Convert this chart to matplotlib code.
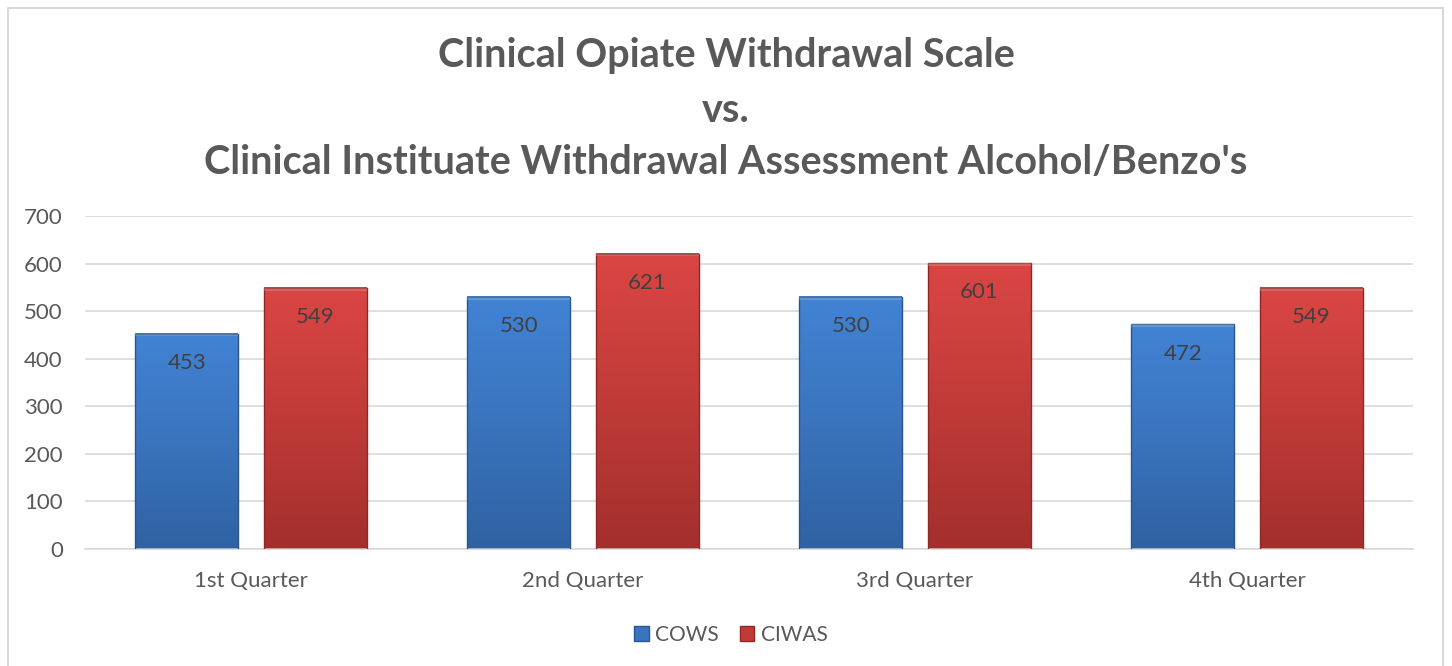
import numpy as np
import matplotlib.pyplot as plt
from matplotlib.patches import Rectangle, Patch
from matplotlib.colors import LinearSegmentedColormap

quarters = ['1st Quarter', '2nd Quarter', '3rd Quarter', '4th Quarter']
cows = [453, 530, 530, 472]
ciwas = [549, 621, 601, 549]
series_names = ['COWS', 'CIWAS']

plt.rcParams['font.family'] = ['Lato', 'DejaVu Sans']
text_color = '#595959'

fig = plt.figure(figsize=(14.52, 6.66), dpi=100)
ax = fig.add_axes([85 / 1452, 1 - 549 / 666, (1413 - 85) / 1452, (549 - 216) / 666])

# outer frame of the chart area
fig.patches.append(Rectangle((8 / 1452, -0.01), (1443 - 8) / 1452, 1 - 8 / 666 + 0.01,
                             transform=fig.transFigure, fill=False,
                             edgecolor='#d9d9d9', linewidth=1.5))

blue_cmap = LinearSegmentedColormap.from_list('b', ['#2f62a2', '#3a74bd', '#4283d4'])
red_cmap = LinearSegmentedColormap.from_list('r', ['#a32f2d', '#c03b38', '#da4644'])

x = np.arange(len(quarters))
width = 0.31
offset = 0.193
grad = np.linspace(0, 1, 256).reshape(-1, 1)

def gradient_bar(xc, h, cmap, edge):
    left, right = xc - width / 2, xc + width / 2
    ax.imshow(grad, extent=(left, right, 0, h), origin='lower', cmap=cmap,
              aspect='auto', zorder=2)
    ax.add_patch(Rectangle((left, 0), width, h, fill=False, edgecolor=edge,
                           linewidth=1.0, zorder=3))
    # bevel highlight on top
    ax.add_patch(Rectangle((left, h - 6), width, 6, facecolor='white', alpha=0.18,
                           linewidth=0, zorder=3))
    ax.annotate(str(h), (xc, h), xytext=(0, -21), textcoords='offset points',
                ha='center', va='center', fontsize=16, color='#404040', zorder=4)

for i in range(len(quarters)):
    gradient_bar(x[i] - offset, cows[i], blue_cmap, '#2a5590')
    gradient_bar(x[i] + offset, ciwas[i], red_cmap, '#8e2826')

ax.set_xlim(-0.5, len(quarters) - 0.5)
ax.set_ylim(0, 700)
ax.set_yticks(range(0, 701, 100))
ax.set_xticks(x)
ax.set_xticklabels(quarters)
ax.grid(axis='y', color='#d9d9d9', linewidth=1.2, zorder=0)
ax.set_axisbelow(True)
for s in ax.spines.values():
    s.set_visible(False)
ax.spines['bottom'].set_visible(True)
ax.spines['bottom'].set_color('#d9d9d9')
ax.spines['bottom'].set_linewidth(1.2)
ax.tick_params(axis='both', length=0, labelsize=16, colors=text_color)
ax.tick_params(axis='y', pad=16)
ax.tick_params(axis='x', pad=16)

fig.text(0.5, 1 - 55 / 666, 'Clinical Opiate Withdrawal Scale', ha='center', va='center',
         fontsize=28.5, fontweight='bold', color=text_color)
fig.text(0.5, 1 - 110 / 666, 'vs.', ha='center', va='center',
         fontsize=28.5, fontweight='bold', color=text_color)
fig.text(0.5, 1 - 163 / 666, "Clinical Instituate Withdrawal Assessment Alcohol/Benzo's",
         ha='center', va='center', fontsize=28.5, fontweight='bold', color=text_color)

handles = [Patch(facecolor='#3a74bd', edgecolor='#2a5590'),
           Patch(facecolor='#c03b38', edgecolor='#8e2826')]
fig.legend(handles, series_names, loc='center', bbox_to_anchor=(731 / 1452, 1 - 635 / 666),
           ncol=2, frameon=False, fontsize=15, labelcolor=text_color,
           handlelength=0.7, handleheight=0.7, handletextpad=0.3, columnspacing=1.0)

fig.savefig('out.png', dpi=100)
